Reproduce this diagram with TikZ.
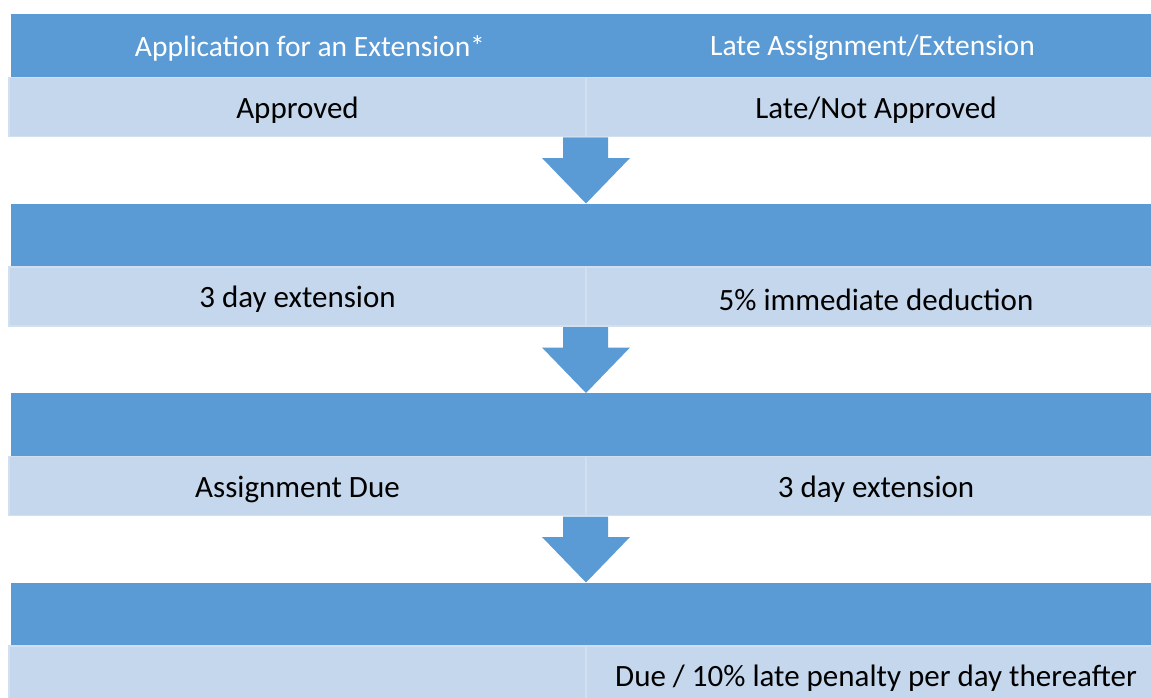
\documentclass[tikz,border=0pt]{standalone}
\usepackage{fontspec}
\setmainfont{Carlito}
\usetikzlibrary{calc}
\definecolor{barblue}{HTML}{5B9BD5}
\definecolor{rowblue}{HTML}{C5D7EC}
\definecolor{rowedge}{HTML}{D2DFF1}
\begin{document}
\begin{tikzpicture}[x=1pt,y=-1pt,
  bar/.style={fill=barblue,inner sep=0pt,outer sep=0pt,minimum width=1145pt,minimum height=63.5pt,anchor=north west},
  cell/.style={fill=rowblue,draw=rowedge,line width=1.5pt,inner sep=0pt,outer sep=0pt,minimum height=59pt,anchor=north west},
  lcell/.style={cell,minimum width=577pt},
  rcell/.style={cell,minimum width=580pt},
  htext/.style={text=white,font=\fontsize{29.5}{35}\selectfont,yshift=-2pt},
  ctext/.style={text=black,font=\fontsize{31}{37}\selectfont,yshift=-3pt},
  blockarrow/.style={fill=barblue}]
\useasboundingbox (0,0) rectangle (1151,698);
\begin{scope}
\clip (0,0) rectangle (1151,698);
% rows
\node[bar] (h0) at (11,14) {};
\node[bar] (h1) at (11,203.5) {};
\node[bar] (h2) at (11,393) {};
\node[bar] (h3) at (11,582.5) {};
\node[lcell] (l0) at (9,77.5) {};
\node[rcell] (r0) at (586,77.5) {};
\node[lcell] (l1) at (9,267) {};
\node[rcell] (r1) at (586,267) {};
\node[lcell] (l2) at (9,456.5) {};
\node[rcell] (r2) at (586,456.5) {};
\node[lcell] (l3) at (9,646) {};
\node[rcell] (r3) at (586,646) {};
% arrows
\foreach \a/\b in {r0/h1,r1/h2,r2/h3}{
  \coordinate (s) at (\a.south west);
  \coordinate (t) at (\b.north west);
  \fill[blockarrow] ($(s)+(-23,1)$) -- ($(s)+(22,1)$) -- ($(s)+(22,21.5)$) -- ($(s)+(44,21.5)$)
     -- (t-|s) -- ($(s)+(-44,21.5)$) -- ($(s)+(-23,21.5)$) -- cycle;
}
\end{scope}
% texts
\node[htext] (ht1) at (310,46) {Application for an Extension*};
\node[htext] (ht2) at (872.5,46) {Late Assignment/Extension};
\node[ctext] at (l0.center) {Approved};
\node[ctext] at (r0.center) {Late/Not Approved};
\node[ctext] at (l1.center) {3 day extension};
\node[ctext] at (r1.center) {5\% immediate deduction};
\node[ctext] at (l2.center) {Assignment Due};
\node[ctext] at (r2.center) {3 day extension};
\node[ctext] at ($(r3.north)+(0,29)$) {Due / 10\% late penalty per day thereafter};
\end{tikzpicture}
\end{document}
